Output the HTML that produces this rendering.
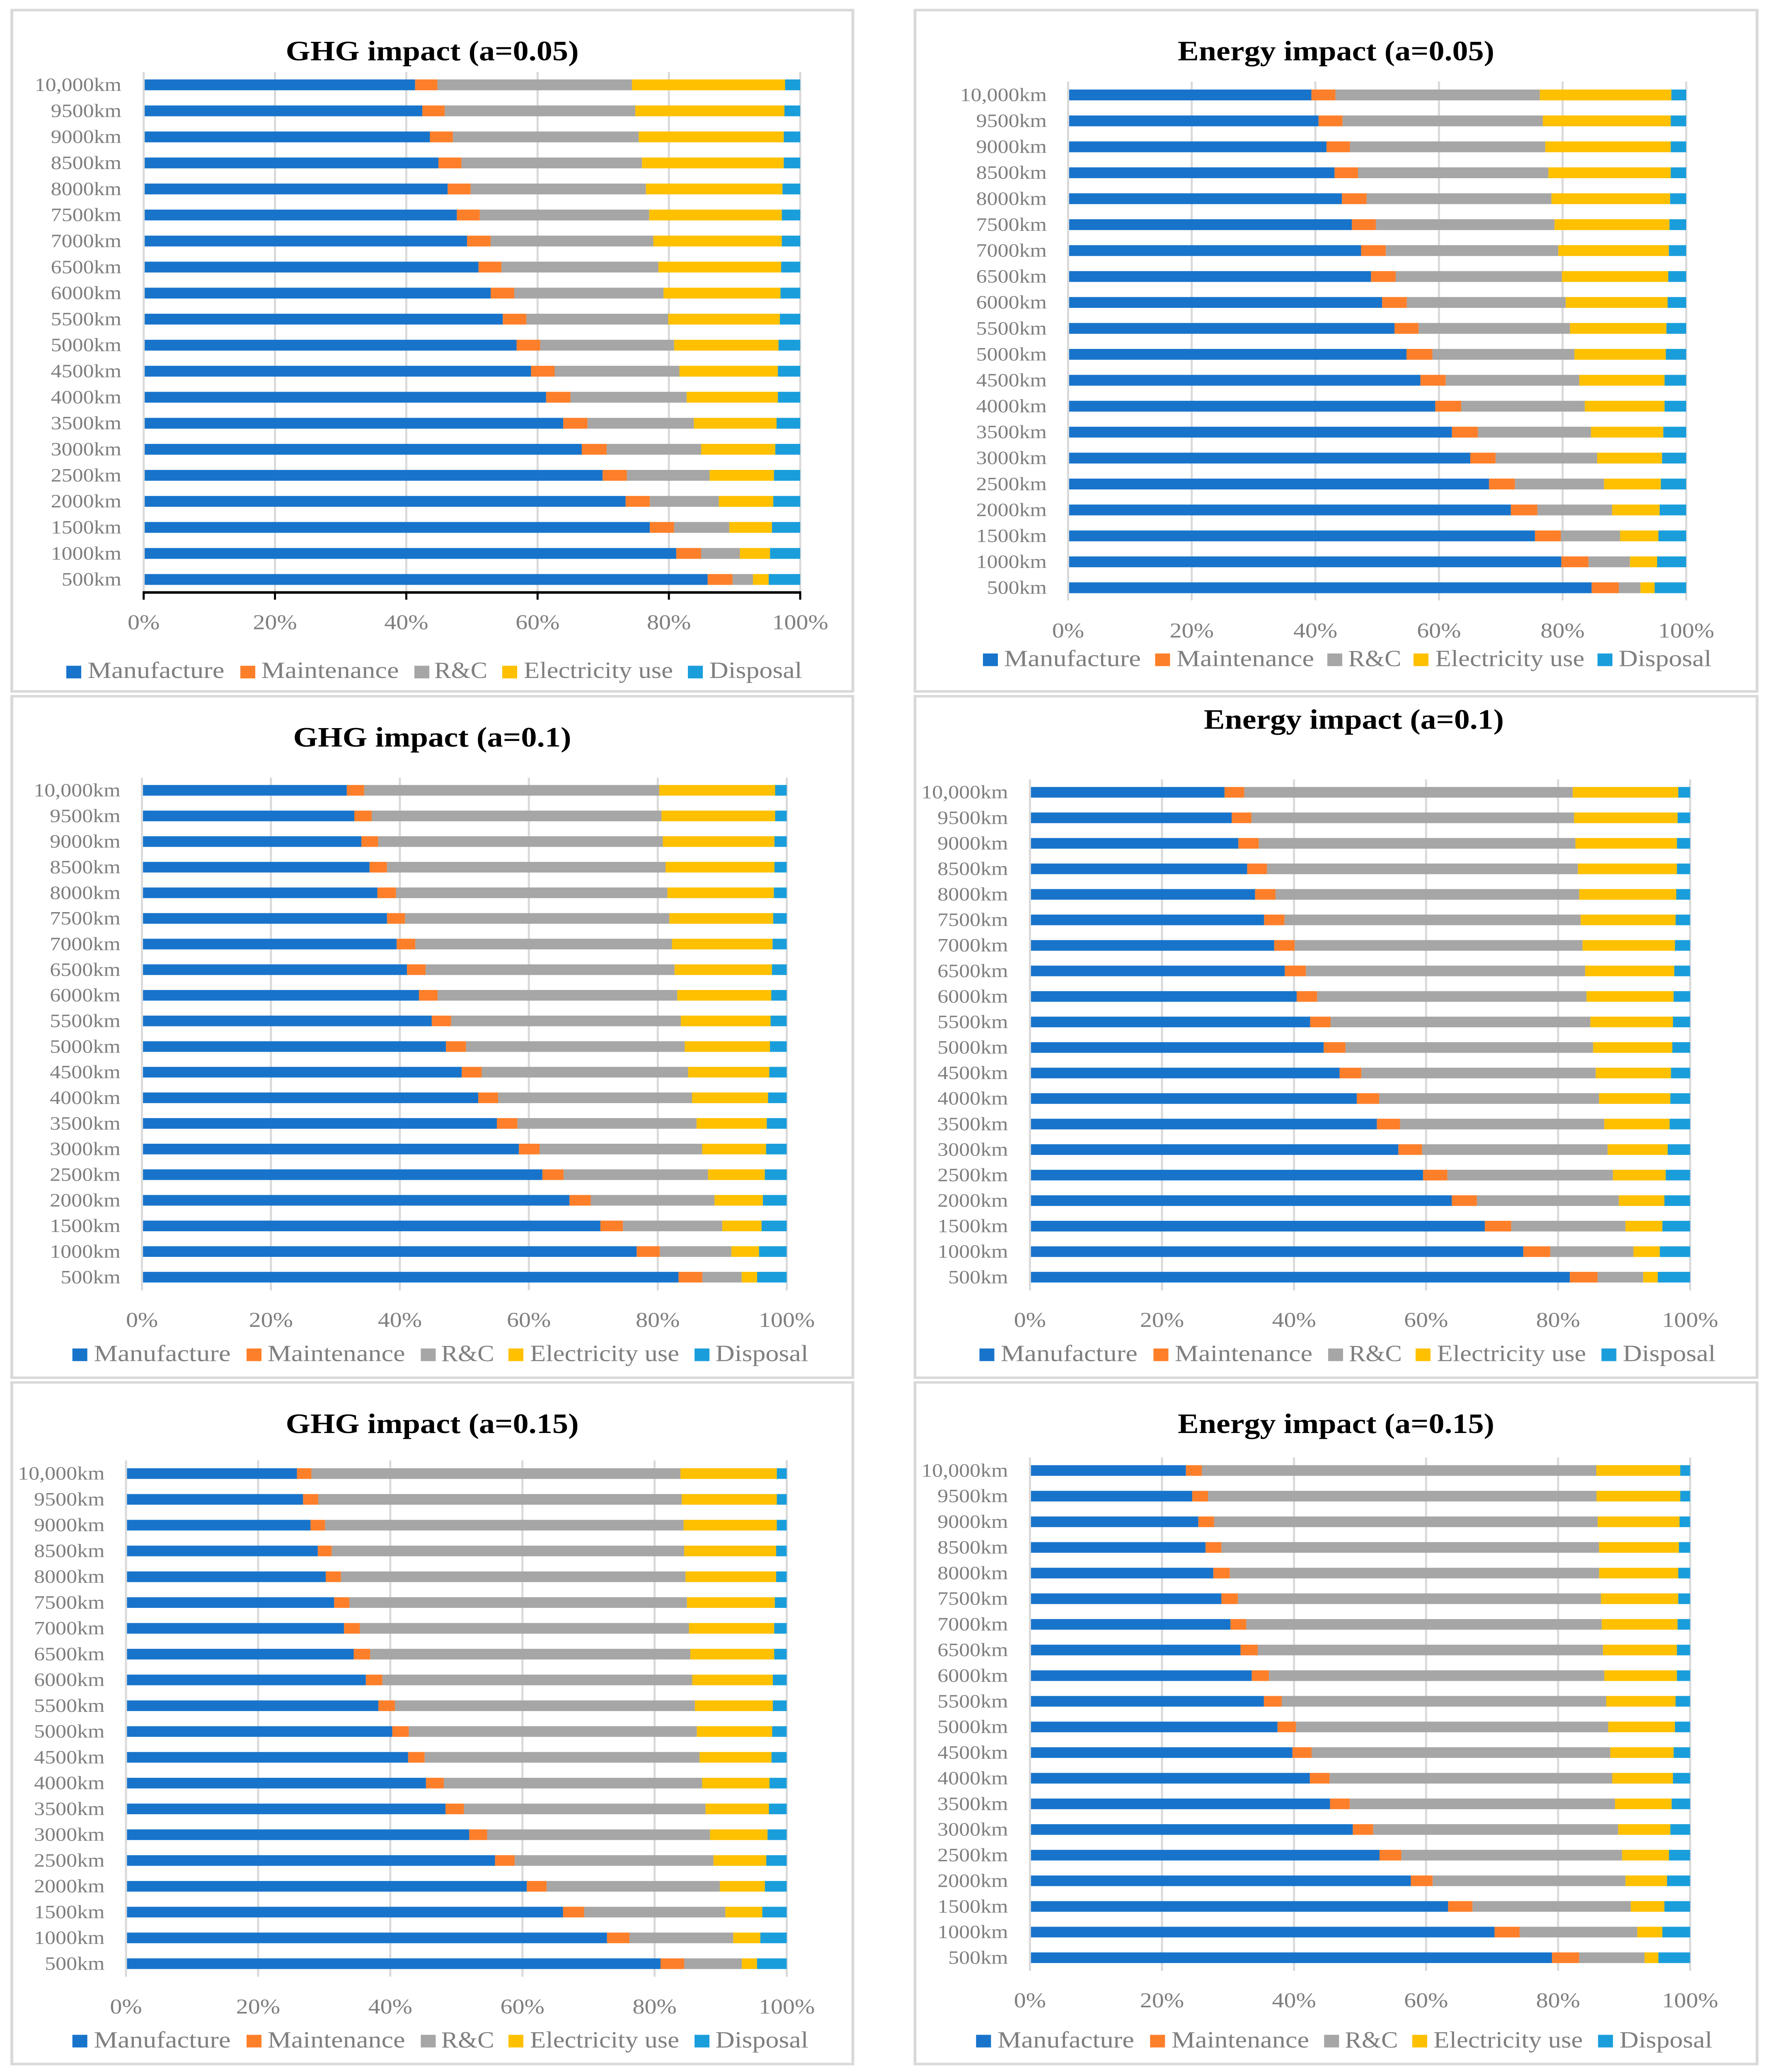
<!DOCTYPE html>
<html lang="en">
<head>
<meta charset="utf-8">
<title>GHG and energy impact charts</title>
<style>
html,body{margin:0;padding:0;background:#fff;width:100%;height:100%;overflow:hidden;}
svg{display:block;width:100vw;height:100vh;}
text{font-family:"Liberation Serif",serif;}
</style>
</head>
<body>
<svg id="figure" xmlns="http://www.w3.org/2000/svg" viewBox="0 0 4264 5739" preserveAspectRatio="none"></svg>
<script>
const categories = ["10,000km","9500km","9000km","8500km","8000km","7500km","7000km","6500km","6000km","5500km","5000km","4500km","4000km","3500km","3000km","2500km","2000km","1500km","1000km","500km"];
const tickValues = [0,20,40,60,80,100];
const seriesNames = ["Manufacture","Maintenance","R&C","Electricity use","Disposal"];
const seriesColors = ["#1874CB","#FE7F2A","#A6A6A6","#FFC000","#1A9EDB"];

const ghg05Manufacture = [41.3,42.4,43.6,44.9,46.3,47.7,49.3,51.0,52.8,54.7,56.8,59.0,61.3,63.9,66.8,69.9,73.4,77.1,81.2,85.9];
const ghg05Maintenance = [3.4,3.4,3.5,3.5,3.5,3.5,3.6,3.5,3.6,3.6,3.6,3.6,3.7,3.7,3.8,3.7,3.7,3.7,3.8,3.8];
const ghg05RC = [29.6,29.0,28.3,27.5,26.7,25.8,24.8,23.9,22.7,21.6,20.4,19.0,17.7,16.2,14.4,12.6,10.5,8.4,5.9,3.1];
const ghg05Electricity = [23.3,22.7,22.1,21.6,20.8,20.2,19.6,18.7,17.8,17.0,15.9,15.0,13.9,12.6,11.3,9.8,8.3,6.5,4.6,2.4];
const ghg05Disposal = [2.3,2.4,2.5,2.5,2.7,2.8,2.8,2.9,3.0,3.1,3.3,3.4,3.4,3.6,3.8,4.0,4.1,4.3,4.6,4.8];

const energy05Manufacture = [39.4,40.5,41.8,43.1,44.3,45.9,47.4,49.0,50.8,52.8,54.8,57.0,59.4,62.1,65.0,68.1,71.7,75.6,79.8,84.7];
const energy05Maintenance = [3.9,3.9,3.8,3.8,4.0,3.9,4.0,4.0,4.0,3.9,4.2,4.1,4.2,4.2,4.1,4.2,4.3,4.2,4.4,4.4];
const energy05RC = [33.1,32.4,31.6,30.8,29.9,28.9,27.9,26.9,25.7,24.5,23.0,21.6,20.0,18.3,16.4,14.4,12.1,9.6,6.7,3.5];
const energy05Electricity = [21.3,20.7,20.3,19.8,19.2,18.6,17.9,17.2,16.5,15.6,14.8,13.8,12.9,11.7,10.5,9.2,7.7,6.2,4.4,2.3];
const energy05Disposal = [2.4,2.5,2.5,2.5,2.6,2.7,2.8,2.9,3.0,3.2,3.3,3.5,3.5,3.7,3.9,4.1,4.3,4.5,4.7,5.1];

const ghg10Manufacture = [31.8,32.9,34.0,35.3,36.5,38.0,39.5,41.1,43.0,44.9,47.1,49.6,52.2,55.1,58.4,62.1,66.3,71.1,76.8,83.3];
const ghg10Maintenance = [2.7,2.7,2.6,2.7,2.9,2.8,2.9,2.9,2.9,3.0,3.1,3.1,3.1,3.2,3.2,3.3,3.3,3.5,3.6,3.7];
const ghg10RC = [45.8,44.9,44.1,43.2,42.1,41.0,39.8,38.6,37.2,35.6,33.9,32.0,30.1,27.8,25.2,22.4,19.2,15.4,11.1,6.1];
const ghg10Electricity = [18.0,17.6,17.3,16.9,16.5,16.1,15.6,15.1,14.6,13.9,13.2,12.6,11.8,10.9,9.9,8.8,7.5,6.1,4.3,2.4];
const ghg10Disposal = [1.8,1.8,1.9,1.9,2.0,2.1,2.2,2.3,2.4,2.5,2.6,2.7,2.9,3.1,3.2,3.4,3.7,3.9,4.3,4.6];

const energy10Manufacture = [29.5,30.6,31.6,32.9,34.1,35.5,37.0,38.6,40.4,42.4,44.5,46.9,49.5,52.5,55.8,59.6,63.9,68.9,74.8,81.7];
const energy10Maintenance = [3.0,3.0,3.1,3.0,3.1,3.1,3.1,3.2,3.1,3.1,3.3,3.3,3.4,3.5,3.6,3.7,3.8,4.0,4.1,4.2];
const energy10RC = [49.8,48.9,48.0,47.1,46.0,44.9,43.6,42.3,40.8,39.3,37.5,35.5,33.3,30.9,28.1,25.1,21.5,17.3,12.6,6.9];
const energy10Electricity = [16.0,15.7,15.4,15.0,14.7,14.4,14.0,13.5,13.2,12.5,12.0,11.4,10.8,9.9,9.1,8.0,6.9,5.6,4.0,2.2];
const energy10Disposal = [1.8,1.9,2.0,2.0,2.1,2.2,2.3,2.4,2.5,2.6,2.7,2.9,3.0,3.1,3.4,3.7,3.9,4.2,4.6,4.9];

const ghg15Manufacture = [25.9,26.8,27.9,29.0,30.2,31.5,33.0,34.5,36.3,38.2,40.3,42.7,45.4,48.4,51.9,55.9,60.6,66.2,72.8,80.9];
const ghg15Maintenance = [2.2,2.3,2.2,2.1,2.3,2.3,2.4,2.5,2.5,2.5,2.5,2.5,2.7,2.8,2.7,3.0,3.0,3.2,3.4,3.6];
const ghg15RC = [55.9,55.0,54.2,53.3,52.1,51.1,49.8,48.5,46.9,45.4,43.6,41.6,39.1,36.6,33.7,30.1,26.2,21.4,15.7,8.7];
const ghg15Electricity = [14.6,14.4,14.1,13.9,13.7,13.3,12.9,12.7,12.2,11.8,11.4,10.9,10.2,9.6,8.7,8.0,6.8,5.6,4.1,2.3];
const ghg15Disposal = [1.5,1.5,1.5,1.6,1.6,1.8,1.9,1.9,2.1,2.1,2.2,2.3,2.6,2.7,2.9,3.1,3.3,3.7,4.0,4.5];

const energy15Manufacture = [23.6,24.6,25.5,26.6,27.8,29.0,30.4,31.9,33.6,35.4,37.5,39.8,42.4,45.5,48.9,52.9,57.7,63.4,70.3,79.0];
const energy15Maintenance = [2.4,2.4,2.4,2.4,2.5,2.5,2.4,2.6,2.6,2.7,2.8,2.9,3.0,3.0,3.1,3.3,3.3,3.7,3.8,4.1];
const energy15RC = [59.7,58.9,58.1,57.2,56.0,55.0,53.9,52.3,50.8,49.1,47.3,45.3,42.8,40.2,37.1,33.4,29.2,24.0,17.8,9.9];
const energy15Electricity = [12.7,12.7,12.4,12.1,12.0,11.7,11.5,11.2,11.0,10.5,10.1,9.6,9.2,8.6,7.9,7.1,6.3,5.1,3.8,2.1];
const energy15Disposal = [1.5,1.5,1.6,1.7,1.8,1.8,1.9,2.0,2.0,2.2,2.3,2.5,2.6,2.8,3.0,3.2,3.5,3.9,4.2,4.8];

const svgNS = "http://www.w3.org/2000/svg";
const figure = document.getElementById("figure");

function make(parent, tag, props, content) {
  const node = document.createElementNS(svgNS, tag);
  for (const key in props) node.setAttribute(key, props[key]);
  if (content !== undefined) node.textContent = content;
  parent.appendChild(node);
  return node;
}

function slug(s) {
  return s.toLowerCase().replace(/[^a-z0-9]+/g, "-").replace(/^-|-$/g, "");
}

const legendWidths = [330, 332, 128, 360, 224];

const panels = [
  { key:"ghg-005", title:"GHG impact (a=0.05)", series:[ghg05Manufacture,ghg05Maintenance,ghg05RC,ghg05Electricity,ghg05Disposal],
    frame:[28.5,28,2058,1915], x0:346.7, x1:1931, firstY:235, lastY:1605, barH:30, gridTop:199, gridBottom:1641,
    labelRight:293, xBase:1743, swatchTop:1844, legendBase:1878, swatchX:[160,580,1000,1212,1660], textX:[211.5,630.5,1048,1264,1711.5],
    titleX:1043, titleW:707, titleBase:167, axis:true },
  { key:"energy-005", title:"Energy impact (a=0.05)", series:[energy05Manufacture,energy05Maintenance,energy05RC,energy05Electricity,energy05Disposal],
    frame:[2208,28,4240,1915], x0:2577.5, x1:4069, firstY:263, lastY:1628, barH:30, gridTop:226, gridBottom:1663,
    labelRight:2526, xBase:1766, swatchTop:1810, legendBase:1845, swatchX:[2372,2787.5,3203,3411,3855], textX:[2423,2839,3253.5,3463.5,3906],
    titleX:3224, titleW:764, titleBase:167, axis:false },
  { key:"ghg-01", title:"GHG impact (a=0.1)", series:[ghg10Manufacture,ghg10Maintenance,ghg10RC,ghg10Electricity,ghg10Disposal],
    frame:[28.5,1928.5,2058,3816], x0:342.6, x1:1898.5, firstY:2189, lastY:3537.5, barH:29.5, gridTop:2154, gridBottom:3574,
    labelRight:290.7, xBase:3675.5, swatchTop:3735, legendBase:3770, swatchX:[174.7,595,1015.4,1227,1676], textX:[226.6,645.6,1064.6,1279,1726.5],
    titleX:1043, titleW:671, titleBase:2068, axis:false },
  { key:"energy-01", title:"Energy impact (a=0.1)", series:[energy10Manufacture,energy10Maintenance,energy10RC,energy10Electricity,energy10Disposal],
    frame:[2208,1928.5,4240,3816], x0:2485.4, x1:4078.5, firstY:2194.5, lastY:3537.5, barH:29.5, gridTop:2159, gridBottom:3574,
    labelRight:2432.6, xBase:3675.5, swatchTop:3735, legendBase:3770, swatchX:[2363.5,2783.5,3205,3416,3864.5], textX:[2415,2835,3255,3467.5,3916],
    titleX:3267, titleW:724, titleBase:2018.6, axis:false },
  { key:"ghg-015", title:"GHG impact (a=0.15)", series:[ghg15Manufacture,ghg15Maintenance,ghg15RC,ghg15Electricity,ghg15Disposal],
    frame:[28.5,3829,2058,5717], x0:304, x1:1898.5, firstY:4081.5, lastY:5439, barH:29.5, gridTop:4045, gridBottom:5475,
    labelRight:252.5, xBase:5577, swatchTop:5636, legendBase:5671, swatchX:[174.7,595,1015.4,1227,1676], textX:[226.6,645.6,1064.6,1279,1726.5],
    titleX:1043, titleW:707, titleBase:3969, axis:false },
  { key:"energy-015", title:"Energy impact (a=0.15)", series:[energy15Manufacture,energy15Maintenance,energy15RC,energy15Electricity,energy15Disposal],
    frame:[2208,3829,4240,5717], x0:2485.4, x1:4078.5, firstY:4073, lastY:5422.5, barH:29.5, gridTop:4037, gridBottom:5459,
    labelRight:2432.6, xBase:5560, swatchTop:5636, legendBase:5671, swatchX:[2355.4,2775.3,3195.3,3408,3856.3], textX:[2407,2827,3245.4,3459.4,3908],
    titleX:3224, titleW:764, titleBase:3969, axis:false }
];

function drawPanel(p) {
  const g = make(figure, "g", {});
  
  

  const frame = make(g, "rect", { x:p.frame[0], y:p.frame[1], width:p.frame[2]-p.frame[0], height:p.frame[3]-p.frame[1], fill:"#fff", stroke:"#d9d9d9", "stroke-width":7 });
  
  

  const title = make(g, "text", { x:p.titleX, y:p.titleBase, "text-anchor":"middle", "font-size":78, "font-weight":"bold", fill:"#000", textLength:p.titleW, lengthAdjust:"spacingAndGlyphs" }, p.title);
  
  

  const xScale = v => p.x0 + (p.x1 - p.x0) * v / 100;
  const yScale = i => p.firstY + (p.lastY - p.firstY) * i / (categories.length - 1);

  tickValues.forEach(t => {
    if (t === 0) return;
    const line = make(g, "line", { x1:xScale(t), x2:xScale(t), y1:p.gridTop, y2:p.gridBottom, stroke:"#d9d9d9", "stroke-width":5 });
    
    
  });

  categories.forEach((cat, i) => {
    const label = make(g, "text", { x:p.labelRight, y:yScale(i)+17, "text-anchor":"end", "font-size":52, fill:"#7f7f7f" }, cat);
    
    
    let total = 0;
    p.series.forEach(s => { total += s[i]; });
    let running = 0;
    p.series.forEach((s, k) => {
      const start = xScale(running / total * 100);
      running += s[i];
      const end = xScale(running / total * 100);
      const bar = make(g, "rect", { x:start, y:yScale(i)-p.barH/2, width:end-start, height:p.barH, fill:seriesColors[k] });
      
      
    });
  });

  const zero = make(g, "line", { x1:xScale(0), x2:xScale(0), y1:p.gridTop, y2:p.gridBottom, stroke:"#d9d9d9", "stroke-width":5 });
  
  

  if (p.axis) {
    const axis = make(g, "line", { x1:xScale(0)-2.5, x2:xScale(100)+2.5, y1:p.gridBottom, y2:p.gridBottom, stroke:"#000", "stroke-width":7 });
    
    
    tickValues.forEach(t => {
      const tick = make(g, "line", { x1:xScale(t), x2:xScale(t), y1:p.gridBottom, y2:p.gridBottom+20, stroke:"#000", "stroke-width":5 });
      
      
    });
  }

  tickValues.forEach(t => {
    const label = make(g, "text", { x:xScale(t), y:p.xBase, "text-anchor":"middle", "font-size":58, fill:"#7f7f7f" }, t + "%");
    
    
  });

  seriesNames.forEach((name, k) => {
    const swatch = make(g, "rect", { x:p.swatchX[k], y:p.swatchTop, width:36, height:35, fill:seriesColors[k] });
    
    
    const entry = make(g, "text", { x:p.textX[k], y:p.legendBase, "font-size":64, fill:"#7f7f7f", textLength:legendWidths[k], lengthAdjust:"spacingAndGlyphs" }, name);
    
    
  });
}

panels.forEach(drawPanel);
</script>
</body>
</html>
